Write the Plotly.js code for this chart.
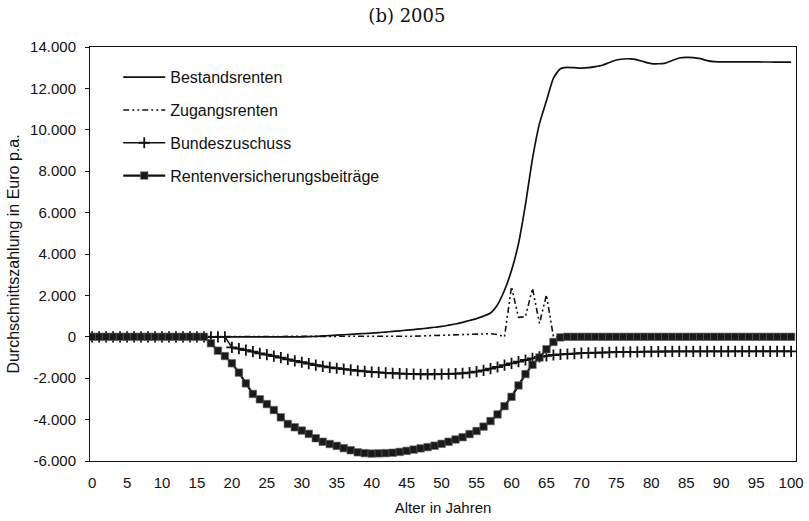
<!DOCTYPE html>
<html>
<head>
<meta charset="utf-8">
<script src="https://cdn.plot.ly/plotly-3.0.1.min.js"></script>
<style>html,body{margin:0;padding:0;background:#fff;}#chart{width:809px;height:521px;}</style>
</head>
<body>
<div id="chart"></div>
<script>
var ages = [0,1,2,3,4,5,6,7,8,9,10,11,12,13,14,15,16,17,18,19,20,21,22,23,24,25,26,27,28,29,30,31,32,33,34,35,36,37,38,39,40,41,42,43,44,45,46,47,48,49,50,51,52,53,54,55,56,57,58,59,60,61,62,63,64,65,66,67,68,69,70,71,72,73,74,75,76,77,78,79,80,81,82,83,84,85,86,87,88,89,90,91,92,93,94,95,96,97,98,99,100];

var bestandsrenten = [
  0,0,0,0,0,0,0,0,0,0,
  0,0,0,0,0,0,0,0,0,0,
  0,0,0,0,0,0,0,0,0,0,
  0,10,20,40,60,80,100,120,140,160,
  180,200,230,260,290,320,350,385,420,460,
  500,560,620,700,790,880,1000,1150,1550,2250,
  3200,4500,6400,8600,10300,11400,12500,12950,13020,13000,
  12980,13000,13050,13120,13250,13370,13420,13430,13380,13280,
  13200,13190,13220,13350,13470,13500,13490,13440,13340,13290,
  13280,13280,13280,13280,13280,13280,13275,13275,13270,13270,
  13270];

var zugangsrenten = [
  0,0,0,0,0,0,0,0,0,0,
  0,0,0,0,0,0,0,0,0,0,
  0,0,0,0,0,0,0,0,0,0,
  0,0,0,0,0,0,0,0,0,0,
  0,5,10,15,20,25,30,40,50,60,
  70,80,90,100,110,120,140,150,110,0,
  2420,940,970,2340,650,2020,0,0,0,0,
  0,0,0,0,0,0,0,0,0,0,
  0,0,0,0,0,0,0,0,0,0,
  0,0,0,0,0,0,0,0,0,0,
  0];

var bundeszuschuss = [
  0,0,0,0,0,0,0,0,0,0,
  0,0,0,0,0,0,0,0,0,0,
  -510,-570,-640,-720,-800,-860,-930,-1010,-1090,-1160,
  -1230,-1300,-1370,-1430,-1480,-1520,-1560,-1600,-1640,-1670,
  -1700,-1720,-1740,-1760,-1780,-1790,-1800,-1810,-1810,-1810,
  -1800,-1790,-1780,-1760,-1730,-1680,-1620,-1540,-1460,-1370,
  -1280,-1200,-1120,-1040,-970,-920,-880,-850,-830,-810,
  -790,-780,-770,-760,-750,-740,-735,-730,-725,-720,
  -715,-712,-710,-708,-706,-705,-704,-703,-702,-701,
  -700,-700,-700,-700,-700,-700,-700,-700,-700,-700,
  -700];

var rentenbeitraege = [
  0,0,0,0,0,0,0,0,0,0,
  0,0,0,0,0,0,0,-310,-670,-930,
  -1280,-1730,-2250,-2760,-3020,-3250,-3540,-3890,-4210,-4370,
  -4530,-4690,-4900,-5070,-5180,-5270,-5380,-5480,-5580,-5620,
  -5640,-5630,-5620,-5600,-5560,-5510,-5450,-5390,-5330,-5260,
  -5170,-5070,-4960,-4850,-4700,-4550,-4340,-4070,-3750,-3350,
  -2900,-2350,-1800,-1350,-1000,-600,-250,-30,0,0,
  0,0,0,0,0,0,0,0,0,0,
  0,0,0,0,0,0,0,0,0,0,
  0,0,0,0,0,0,0,0,0,0,
  0];

var seriesNames = ["Bestandsrenten","Zugangsrenten","Bundeszuschuss","Rentenversicherungsbeiträge"];
var yTickVals = [-6000,-4000,-2000,0,2000,4000,6000,8000,10000,12000,14000];
var yTickText = ["-6.000","-4.000","-2.000","0","2.000","4.000","6.000","8.000","10.000","12.000","14.000"];
var xTickVals = [0,5,10,15,20,25,30,35,40,45,50,55,60,65,70,75,80,85,90,95,100];

var ink = "#111111";
var traces = [
  {x: ages, y: bestandsrenten, name: seriesNames[0], type: "scatter", mode: "lines",
   line: {color: ink, width: 1.7, shape: "spline", smoothing: 0.6}, legendgroup: "a"},
  {x: ages, y: zugangsrenten, name: seriesNames[1], type: "scatter", mode: "lines",
   line: {color: ink, width: 1.6, dash: "6px,3px,2px,3px,2px,3px"}, legendgroup: "b"},
  {x: ages, y: bundeszuschuss, name: seriesNames[2], type: "scatter", mode: "lines+markers",
   line: {color: ink, width: 1.5},
   marker: {symbol: "cross-thin", size: 8, line: {color: ink, width: 1.8}}, legendgroup: "c"},
  {x: ages, y: rentenbeitraege, name: seriesNames[3], type: "scatter", mode: "lines+markers",
   line: {color: ink, width: 2.2},
   marker: {symbol: "square", size: 7.5, color: "#1a1a1a", line: {color: "#666", width: 0.6}}, legendgroup: "d"}
];

var sans = "Liberation Sans, Arial, sans-serif";
var layout = {
  width: 809, height: 521,
  margin: {l: 90, r: 13, t: 47, b: 60},
  paper_bgcolor: "#fff", plot_bgcolor: "#fff",
  title: {text: "(b) 2005", font: {family: "DejaVu Serif, Liberation Serif, serif", size: 18, color: "#111"},
          x: 0.503, xanchor: "center", y: 0.97, yanchor: "middle"},
  showlegend: true,
  legend: {x: 0.04, y: 0.968, xanchor: "left", yanchor: "top", bgcolor: "rgba(0,0,0,0)",
           font: {family: sans, size: 16, color: "#111"},
           traceorder: "grouped", tracegroupgap: 9, itemwidth: 42},
  xaxis: {range: [-0.3, 100.7], tickmode: "array", tickvals: xTickVals,
          showgrid: false, zeroline: false, showline: true, mirror: true,
          linecolor: "#111", linewidth: 1, ticks: "", ticklabelstandoff: 8,
          tickfont: {family: sans, size: 15, color: "#111"},
          title: {text: "Alter in Jahren", font: {family: sans, size: 15, color: "#111"}, standoff: 12}},
  yaxis: {range: [-6000, 14000], tickmode: "array", tickvals: yTickVals, ticktext: yTickText,
          showgrid: false, zeroline: false, showline: true, mirror: true,
          linecolor: "#111", linewidth: 1, ticks: "outside", ticklen: 4, tickcolor: "#111",
          ticklabelstandoff: 6, tickfont: {family: sans, size: 15, color: "#111"},
          title: {text: "Durchschnittszahlung in Euro p.a.", font: {family: sans, size: 16, color: "#111"}, standoff: 6}}
};

Plotly.newPlot("chart", traces, layout, {displayModeBar: false, staticPlot: true});
</script>
</body>
</html>
